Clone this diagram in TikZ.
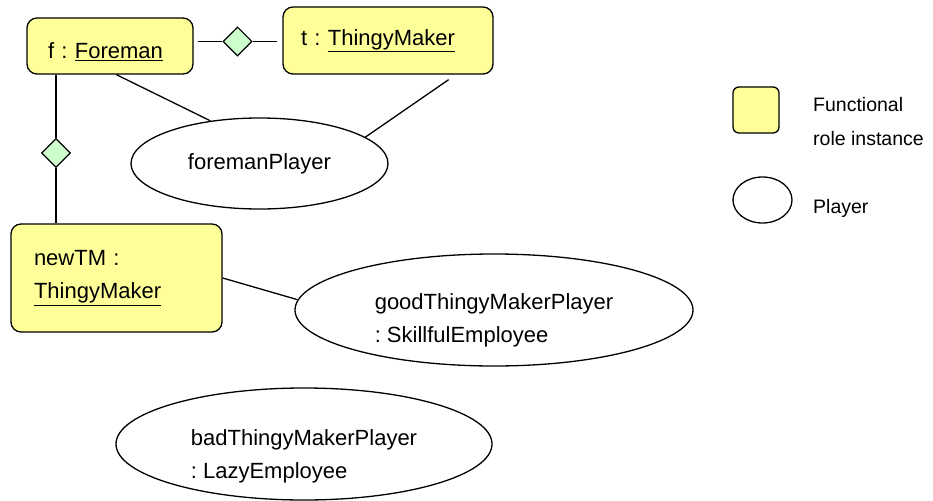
\documentclass[tikz,border=0pt]{standalone}
\usepackage{fontspec}
\setmainfont{Liberation Sans}
\usepackage{xcolor}
\usetikzlibrary{shapes, calc}
\definecolor{roleyellow}{HTML}{FFFF99}
\definecolor{relgreen}{HTML}{CCFFCC}
\frenchspacing

\begin{document}
\begin{tikzpicture}[
    x = 1pt, y = -1pt,
    font = \fontsize{22}{33}\selectfont,
    role/.style = {rectangle, rounded corners = 10pt, draw, line width = 1.3pt, fill = roleyellow, inner ysep = 0pt, align = left},
    player/.style = {ellipse, draw, line width = 1.3pt, fill = white, inner sep = 0pt, align = left},
    relation/.style = {diamond, draw, line width = 1.1pt, fill = relgreen, inner sep = 0pt, minimum width = 29pt, minimum height = 29pt},
    link/.style = {line width = 1.3pt},
    legend/.style = {font = \fontsize{19.5}{34}\selectfont, inner sep = 0pt, align = left},
    ]
    \useasboundingbox (0,0) rectangle (933,500);

    % role instances
    \node [role, inner xsep = 21pt, text width = 124pt, minimum height = 56pt] (f) at (110,46) {\rule{0pt}{28pt}f : \underline{Foreman}};
    \node [role, inner xsep = 18pt, text width = 174pt, minimum height = 67pt] (t) at (388,40.5) {t : \underline{ThingyMaker}};
    \node [role, inner xsep = 23pt, text width = 165pt, minimum height = 108pt] (tm) at (116.5,278) {newTM :\\\underline{ThingyMaker}};

    % players
    \node [player, minimum width = 257pt, minimum height = 91pt] (fp) at (259.5,163.5) {foremanPlayer};
    \node [player, minimum width = 398pt, minimum height = 112pt] (gp) at (494,310) {\rule{0pt}{36pt}goodThingyMakerPlayer\\: SkillfulEmployee};
    \node [player, minimum width = 376pt, minimum height = 112pt] (bp) at (304,444) {\rule{0pt}{40pt}badThingyMakerPlayer\\: LazyEmployee};

    % relations
    \node [relation] (rel1) at (237.5,41.5) {};
    \node [relation] (rel2) at (56,153) {};

    % draw paths
    \draw [link] ($(f.east |- rel1)+(4,0)$) -- (rel1);
    \draw [link] (rel1) -- ($(t.west |- rel1)+(-5,0)$);
    \draw [link] (f.south -| rel2) -- (rel2);
    \draw [link] (rel2) -- (tm.north -| rel2);
    \draw [link] ($(f.south west)+(90,0)$) -- (fp.139);
    \draw [link] ($(t.south east)+(-45,5)$) -- (fp.14);
    \draw [link] (tm.east) -- (gp.177);

    % legend
    \node [role, rounded corners = 6pt, minimum width = 46pt, minimum height = 46pt, inner sep = 0pt] (legrole) at (756,110) {};
    \node [player, minimum width = 59pt, minimum height = 46pt] (legplayer) at (762.5,200) {};
    \node [legend, anchor = north west] (rolelabel) at (813,97) {Functional\\role instance};
    \node [legend, anchor = base west] (playerlabel) at (813,213) {Player};
\end{tikzpicture}
\end{document}
